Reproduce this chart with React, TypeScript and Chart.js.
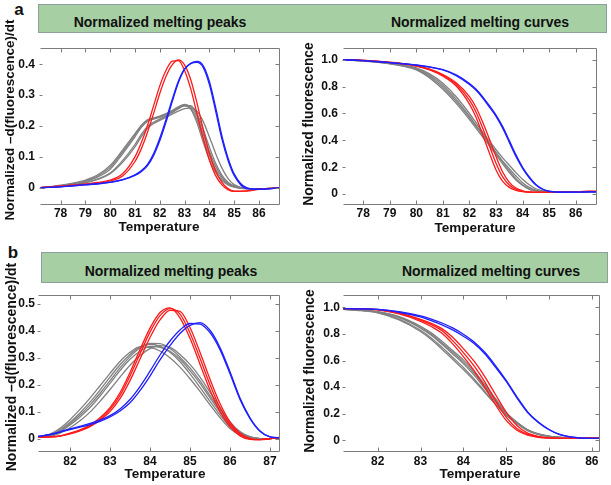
import React, { useEffect, useRef } from 'react';
import { Chart, registerables } from 'chart.js';

Chart.register(...registerables);

const FONT = '"Liberation Sans", Arial, Helvetica, sans-serif';
const RED = '#ff1a1a';
const BLUE = '#1f1fff';
const GRAY = '#808080';
const FRAME = '#7c7c7c';

// ---------- Panel a: normalized melting peaks ----------
const tempsPeaksA = [77.2, 77.5, 78, 78.5, 79, 79.5, 80, 80.5, 81, 81.25, 81.5, 81.75, 82, 82.25, 82.5, 82.75, 83, 83.25, 83.5, 83.75, 84, 84.25, 84.5, 84.75, 85, 85.5, 86, 86.5, 86.85];
const bluePeakA1 = [0.000, 0.001, 0.003, 0.006, 0.010, 0.013, 0.018, 0.026, 0.042, 0.055, 0.075, 0.110, 0.160, 0.220, 0.285, 0.345, 0.385, 0.402, 0.406, 0.390, 0.335, 0.250, 0.160, 0.090, 0.040, -0.003, -0.005, -0.003, 0.000];
const bluePeakA2 = [0.000, 0.001, 0.003, 0.006, 0.009, 0.012, 0.017, 0.025, 0.040, 0.052, 0.071, 0.104, 0.152, 0.212, 0.278, 0.340, 0.383, 0.403, 0.409, 0.396, 0.345, 0.262, 0.170, 0.097, 0.045, 0.000, -0.005, -0.003, 0.000];
const redPeakA1 = [0.000, 0.002, 0.005, 0.008, 0.012, 0.017, 0.025, 0.045, 0.100, 0.145, 0.200, 0.265, 0.330, 0.380, 0.410, 0.412, 0.380, 0.320, 0.240, 0.160, 0.090, 0.040, 0.010, -0.006, -0.012, -0.010, -0.004, -0.002, 0.000];
const redPeakA2 = [0.000, 0.002, 0.005, 0.008, 0.011, 0.015, 0.022, 0.038, 0.085, 0.125, 0.178, 0.240, 0.305, 0.360, 0.398, 0.414, 0.398, 0.350, 0.275, 0.190, 0.112, 0.055, 0.018, -0.003, -0.011, -0.011, -0.005, -0.002, 0.000];
const grayPeakA1 = [0.000, 0.002, 0.006, 0.012, 0.020, 0.035, 0.060, 0.110, 0.165, 0.195, 0.215, 0.222, 0.228, 0.236, 0.245, 0.258, 0.265, 0.255, 0.220, 0.160, 0.105, 0.060, 0.030, 0.012, 0.003, -0.003, -0.003, -0.002, 0.000];
const grayPeakA2 = [0.000, 0.002, 0.005, 0.010, 0.017, 0.029, 0.048, 0.088, 0.140, 0.172, 0.198, 0.212, 0.222, 0.232, 0.243, 0.256, 0.266, 0.266, 0.240, 0.190, 0.132, 0.080, 0.042, 0.018, 0.006, -0.002, -0.003, -0.002, 0.000];
const grayPeakA3 = [0.000, 0.002, 0.005, 0.010, 0.016, 0.027, 0.045, 0.082, 0.132, 0.165, 0.192, 0.208, 0.218, 0.228, 0.238, 0.248, 0.256, 0.258, 0.248, 0.215, 0.165, 0.112, 0.065, 0.030, 0.010, -0.002, -0.003, -0.002, 0.000];
const grayPeakA4 = [0.000, 0.003, 0.008, 0.015, 0.025, 0.042, 0.072, 0.122, 0.175, 0.202, 0.220, 0.226, 0.232, 0.240, 0.250, 0.262, 0.270, 0.255, 0.210, 0.148, 0.092, 0.050, 0.024, 0.009, 0.002, -0.003, -0.003, -0.002, 0.000];
const grayPeakA5 = [0.000, 0.002, 0.007, 0.013, 0.022, 0.038, 0.066, 0.116, 0.170, 0.199, 0.218, 0.224, 0.230, 0.238, 0.248, 0.260, 0.268, 0.262, 0.232, 0.175, 0.118, 0.070, 0.036, 0.015, 0.005, -0.003, -0.003, -0.002, 0.000];
const xTicksPeaksA = [78, 79, 80, 81, 82, 83, 84, 85, 86];
const yTicksPeaksA = [0, 0.1, 0.2, 0.3, 0.4];
const yLabelsPeaksA = ['0', '0.1', '0.2', '0.3', '0.4'];

// ---------- Panel a: normalized melting curves ----------
const tempsCurvesA = [77.24, 77.5, 78, 78.5, 79, 79.5, 80, 80.5, 81, 81.5, 82, 82.25, 82.5, 82.75, 83, 83.25, 83.5, 83.75, 84, 84.25, 84.5, 84.75, 85, 85.5, 86, 86.5, 86.8];
const blueCurveA1 = [1.000, 0.998, 0.993, 0.986, 0.978, 0.970, 0.960, 0.945, 0.924, 0.882, 0.816, 0.772, 0.715, 0.648, 0.578, 0.490, 0.385, 0.280, 0.192, 0.122, 0.068, 0.036, 0.021, 0.014, 0.015, 0.016, 0.017];
const blueCurveA2 = [1.000, 0.998, 0.993, 0.987, 0.979, 0.971, 0.961, 0.947, 0.927, 0.887, 0.823, 0.780, 0.724, 0.658, 0.588, 0.502, 0.398, 0.292, 0.200, 0.128, 0.072, 0.038, 0.022, 0.014, 0.015, 0.016, 0.017];
const redCurveA1 = [1.000, 0.999, 0.995, 0.988, 0.980, 0.970, 0.953, 0.925, 0.878, 0.805, 0.670, 0.570, 0.440, 0.305, 0.180, 0.095, 0.050, 0.028, 0.018, 0.014, 0.013, 0.013, 0.014, 0.016, 0.018, 0.020, 0.020];
const redCurveA2 = [1.000, 0.999, 0.995, 0.988, 0.980, 0.970, 0.954, 0.928, 0.885, 0.818, 0.700, 0.610, 0.490, 0.360, 0.230, 0.128, 0.068, 0.036, 0.021, 0.015, 0.013, 0.013, 0.014, 0.016, 0.018, 0.020, 0.020];
const redCurveA3 = [1.000, 0.999, 0.995, 0.989, 0.981, 0.971, 0.955, 0.930, 0.890, 0.828, 0.725, 0.645, 0.535, 0.410, 0.280, 0.165, 0.088, 0.045, 0.025, 0.016, 0.013, 0.013, 0.014, 0.016, 0.018, 0.020, 0.020];
const grayCurveA1 = [1.000, 0.997, 0.990, 0.982, 0.970, 0.952, 0.925, 0.865, 0.780, 0.675, 0.555, 0.490, 0.425, 0.360, 0.292, 0.225, 0.160, 0.105, 0.064, 0.036, 0.022, 0.017, 0.015, 0.015, 0.016, 0.018, 0.019];
const grayCurveA2 = [1.000, 0.997, 0.991, 0.983, 0.972, 0.955, 0.930, 0.875, 0.795, 0.690, 0.570, 0.505, 0.440, 0.372, 0.305, 0.240, 0.175, 0.115, 0.070, 0.040, 0.024, 0.018, 0.015, 0.015, 0.016, 0.018, 0.019];
const grayCurveA3 = [1.000, 0.998, 0.992, 0.985, 0.975, 0.960, 0.940, 0.895, 0.825, 0.725, 0.600, 0.530, 0.460, 0.395, 0.330, 0.270, 0.215, 0.160, 0.110, 0.070, 0.040, 0.025, 0.018, 0.015, 0.016, 0.018, 0.019];
const grayCurveA4 = [1.000, 0.997, 0.991, 0.984, 0.973, 0.957, 0.935, 0.885, 0.810, 0.705, 0.580, 0.512, 0.445, 0.378, 0.310, 0.245, 0.190, 0.135, 0.085, 0.050, 0.030, 0.020, 0.016, 0.015, 0.016, 0.018, 0.019];
const xTicksCurvesA = [78, 79, 80, 81, 82, 83, 84, 85, 86];
const yTicksCurves = [0, 0.2, 0.4, 0.6, 0.8, 1.0];
const yLabelsCurves = ['0', '0.2', '0.4', '0.6', '0.8', '1.0'];

// ---------- Panel b: normalized melting peaks ----------
const tempsPeaksB = [81.2, 81.5, 81.75, 82, 82.25, 82.5, 82.75, 83, 83.25, 83.5, 83.75, 84, 84.25, 84.5, 84.75, 85, 85.25, 85.5, 85.75, 86, 86.25, 86.5, 86.75, 87, 87.25];
const bluePeakB1 = [0.008, 0.015, 0.025, 0.036, 0.045, 0.056, 0.068, 0.085, 0.110, 0.145, 0.193, 0.250, 0.310, 0.362, 0.403, 0.427, 0.425, 0.393, 0.330, 0.240, 0.145, 0.074, 0.027, 0.006, 0.003];
const bluePeakB2 = [0.008, 0.014, 0.023, 0.033, 0.042, 0.052, 0.064, 0.080, 0.102, 0.133, 0.178, 0.232, 0.292, 0.345, 0.390, 0.420, 0.430, 0.402, 0.338, 0.248, 0.150, 0.077, 0.028, 0.006, 0.003];
const redPeakB1 = [0.005, 0.006, 0.010, 0.020, 0.032, 0.050, 0.077, 0.115, 0.170, 0.245, 0.330, 0.410, 0.468, 0.485, 0.448, 0.372, 0.276, 0.180, 0.100, 0.044, 0.010, -0.003, -0.004, 0.000, 0.004];
const redPeakB2 = [0.005, 0.006, 0.009, 0.017, 0.028, 0.044, 0.068, 0.100, 0.148, 0.215, 0.295, 0.375, 0.440, 0.476, 0.472, 0.412, 0.320, 0.220, 0.130, 0.062, 0.020, 0.001, -0.004, -0.001, 0.004];
const redPeakB3 = [0.005, 0.006, 0.009, 0.018, 0.030, 0.047, 0.072, 0.108, 0.160, 0.232, 0.315, 0.395, 0.456, 0.482, 0.462, 0.392, 0.298, 0.200, 0.115, 0.053, 0.015, -0.002, -0.004, 0.000, 0.004];
const grayPeakB1 = [0.004, 0.010, 0.025, 0.050, 0.080, 0.115, 0.158, 0.205, 0.252, 0.294, 0.324, 0.342, 0.338, 0.324, 0.294, 0.252, 0.205, 0.151, 0.098, 0.050, 0.020, 0.005, 0.000, 0.000, 0.002];
const grayPeakB2 = [0.005, 0.013, 0.032, 0.060, 0.095, 0.135, 0.180, 0.228, 0.274, 0.312, 0.340, 0.350, 0.342, 0.320, 0.285, 0.240, 0.190, 0.138, 0.088, 0.043, 0.016, 0.004, 0.000, 0.000, 0.002];
const grayPeakB3 = [0.004, 0.008, 0.020, 0.040, 0.066, 0.098, 0.138, 0.182, 0.228, 0.272, 0.308, 0.334, 0.345, 0.338, 0.312, 0.275, 0.228, 0.172, 0.115, 0.062, 0.026, 0.007, 0.000, 0.000, 0.002];
const grayPeakB4 = [0.006, 0.016, 0.038, 0.070, 0.108, 0.150, 0.196, 0.242, 0.286, 0.320, 0.340, 0.338, 0.325, 0.300, 0.265, 0.222, 0.175, 0.125, 0.078, 0.037, 0.013, 0.003, 0.000, 0.000, 0.002];
const grayPeakB5 = [0.004, 0.011, 0.028, 0.055, 0.087, 0.125, 0.168, 0.215, 0.262, 0.304, 0.336, 0.353, 0.352, 0.334, 0.302, 0.262, 0.214, 0.160, 0.106, 0.056, 0.022, 0.006, 0.000, 0.000, 0.002];
const xTicksPeaksB = [82, 83, 84, 85, 86, 87];
const yTicksPeaksB = [0, 0.1, 0.2, 0.3, 0.4, 0.5];
const yLabelsPeaksB = ['0', '0.1', '0.2', '0.3', '0.4', '0.5'];

// ---------- Panel b: normalized melting curves ----------
const tempsCurvesB = [81.2, 81.5, 82, 82.5, 83, 83.25, 83.5, 83.75, 84, 84.25, 84.5, 84.75, 85, 85.25, 85.5, 85.75, 86, 86.25, 86.5, 86.75, 87, 87.19];
const blueCurveB1 = [0.990, 0.989, 0.984, 0.963, 0.928, 0.900, 0.868, 0.830, 0.783, 0.728, 0.650, 0.550, 0.444, 0.320, 0.210, 0.135, 0.080, 0.044, 0.026, 0.018, 0.015, 0.015];
const blueCurveB2 = [0.990, 0.989, 0.985, 0.967, 0.936, 0.912, 0.882, 0.845, 0.798, 0.740, 0.662, 0.562, 0.452, 0.328, 0.215, 0.138, 0.082, 0.045, 0.026, 0.018, 0.015, 0.015];
const redCurveB1 = [0.990, 0.989, 0.982, 0.955, 0.904, 0.870, 0.825, 0.750, 0.660, 0.560, 0.440, 0.300, 0.175, 0.090, 0.045, 0.026, 0.018, 0.016, 0.015, 0.016, 0.017, 0.017];
const redCurveB2 = [0.990, 0.989, 0.983, 0.958, 0.910, 0.880, 0.840, 0.775, 0.690, 0.595, 0.480, 0.345, 0.212, 0.112, 0.055, 0.030, 0.019, 0.016, 0.015, 0.016, 0.017, 0.017];
const redCurveB3 = [0.990, 0.988, 0.980, 0.950, 0.895, 0.856, 0.805, 0.725, 0.630, 0.525, 0.400, 0.268, 0.150, 0.076, 0.039, 0.023, 0.017, 0.015, 0.015, 0.016, 0.017, 0.017];
const grayCurveB1 = [0.985, 0.980, 0.965, 0.922, 0.844, 0.790, 0.722, 0.650, 0.577, 0.490, 0.390, 0.290, 0.195, 0.130, 0.075, 0.045, 0.030, 0.022, 0.018, 0.016, 0.015, 0.015];
const grayCurveB2 = [0.985, 0.979, 0.960, 0.912, 0.828, 0.770, 0.700, 0.625, 0.548, 0.462, 0.368, 0.275, 0.188, 0.126, 0.074, 0.045, 0.030, 0.022, 0.018, 0.016, 0.015, 0.015];
const grayCurveB3 = [0.986, 0.982, 0.968, 0.930, 0.858, 0.808, 0.745, 0.675, 0.605, 0.520, 0.420, 0.315, 0.210, 0.138, 0.080, 0.048, 0.031, 0.022, 0.018, 0.016, 0.015, 0.015];
const grayCurveB4 = [0.985, 0.978, 0.958, 0.905, 0.818, 0.758, 0.685, 0.610, 0.532, 0.450, 0.360, 0.272, 0.190, 0.130, 0.080, 0.050, 0.033, 0.023, 0.018, 0.016, 0.015, 0.015];
const grayCurveB5 = [0.986, 0.981, 0.966, 0.926, 0.850, 0.798, 0.732, 0.662, 0.590, 0.505, 0.405, 0.302, 0.202, 0.134, 0.078, 0.047, 0.031, 0.022, 0.018, 0.016, 0.015, 0.015];
const xTicksCurvesB = [82, 83, 84, 85, 86, 87];
const xLabelsCurvesB = ['82', '83', '84', '85', '86', '86'];

type Series = { values: number[]; color: string };
type PanelDef = {
  box: { x: number; y: number; w: number; h: number };
  pad: { top: number; right: number };
  yWidth: number;
  xHeight: number;
  temps: number[];
  series: Series[];
  xMin: number; xMax: number; yMin: number; yMax: number;
  xTicks: number[]; xLabels: string[];
  yTicks: number[]; yLabels: string[];
  xPad: number; yPad: number;
};

const framePlugin = {
  id: 'innerFrame',
  afterDatasetsDraw(chart: any) {
    const { ctx, chartArea } = chart;
    const xs = chart.scales.x;
    const ys = chart.scales.y;
    const L = Math.round(chartArea.left) + 0.5;
    const R = Math.round(chartArea.right) - 0.5;
    const T = Math.round(chartArea.top) + 0.5;
    const B = Math.round(chartArea.bottom) - 0.5;
    ctx.save();
    ctx.strokeStyle = FRAME;
    ctx.lineWidth = 1;
    ctx.beginPath();
    ctx.moveTo(L, T);
    ctx.lineTo(R, T);
    ctx.lineTo(R, B);
    ctx.lineTo(L, B);
    xs.ticks.forEach((t: any) => {
      const px = Math.round(xs.getPixelForValue(t.value)) + 0.5;
      ctx.moveTo(px, T); ctx.lineTo(px, T + 4);
      ctx.moveTo(px, B); ctx.lineTo(px, B - 4);
    });
    ys.ticks.forEach((t: any) => {
      const py = Math.round(ys.getPixelForValue(t.value)) + 0.5;
      ctx.moveTo(L - 1, py); ctx.lineTo(L + 2, py);
      ctx.moveTo(R, py); ctx.lineTo(R - 4, py);
    });
    ctx.stroke();
    ctx.restore();
  },
};

function MeltChart({ p }: { p: PanelDef }) {
  const ref = useRef<HTMLCanvasElement>(null);
  useEffect(() => {
    const tickFont = { family: FONT, size: 12, weight: 'bold' as const };
    const chart = new Chart(ref.current as HTMLCanvasElement, {
      type: 'line',
      data: {
        datasets: p.series.map((s) => ({
          data: p.temps.map((t, i) => ({ x: t, y: s.values[i] })),
          borderColor: s.color,
          borderWidth: 1.3,
          pointRadius: 0,
          fill: false,
          cubicInterpolationMode: 'monotone' as const,
        })),
      },
      options: {
        animation: false,
        responsive: false,
        maintainAspectRatio: false,
        events: [],
        layout: { padding: { left: 0, top: p.pad.top, right: p.pad.right, bottom: 0 } },
        plugins: { legend: { display: false }, tooltip: { enabled: false }, title: { display: false } },
        scales: {
          x: {
            type: 'linear',
            min: p.xMin,
            max: p.xMax,
            grid: { display: false, drawTicks: false },
            border: { display: false },
            afterBuildTicks: (s: any) => { s.ticks = p.xTicks.map((v) => ({ value: v })); },
            afterFit: (s: any) => { s.height = p.xHeight; },
            ticks: {
              autoSkip: false,
              maxRotation: 0,
              padding: p.xPad,
              color: '#111',
              font: tickFont,
              callback: (_v: any, i: number) => p.xLabels[i],
            },
          },
          y: {
            type: 'linear',
            min: p.yMin,
            max: p.yMax,
            grid: { display: false, drawTicks: false },
            border: { display: false },
            afterBuildTicks: (s: any) => { s.ticks = p.yTicks.map((v) => ({ value: v })); },
            afterFit: (s: any) => { s.width = p.yWidth; },
            ticks: {
              autoSkip: false,
              padding: p.yPad,
              color: '#111',
              font: tickFont,
              callback: (_v: any, i: number) => p.yLabels[i],
            },
          },
        },
      },
      plugins: [framePlugin],
    } as any);
    return () => chart.destroy();
  }, []);
  return (
    <canvas
      ref={ref}
      width={p.box.w}
      height={p.box.h}
      style={{ position: 'absolute', left: p.box.x, top: p.box.y, width: p.box.w, height: p.box.h }}
    />
  );
}

const peaksA: PanelDef = {
  box: { x: 0, y: 36, w: 290, h: 204 },
  pad: { top: 6, right: 10 },
  yWidth: 40, xHeight: 35,
  temps: tempsPeaksA,
  series: [
    { values: bluePeakA1, color: BLUE }, { values: bluePeakA2, color: BLUE },
    { values: redPeakA1, color: RED }, { values: redPeakA2, color: RED },
    { values: grayPeakA1, color: GRAY }, { values: grayPeakA2, color: GRAY }, { values: grayPeakA3, color: GRAY },
    { values: grayPeakA4, color: GRAY }, { values: grayPeakA5, color: GRAY },
  ],
  xMin: 77.17, xMax: 86.85, yMin: -0.056, yMax: 0.452,
  xTicks: xTicksPeaksA, xLabels: xTicksPeaksA.map(String),
  yTicks: yTicksPeaksA, yLabels: yLabelsPeaksA,
  xPad: 1, yPad: 5,
};

const curvesA: PanelDef = {
  box: { x: 296, y: 36, w: 315, h: 204 },
  pad: { top: 6, right: 14 },
  yWidth: 47, xHeight: 35,
  temps: tempsCurvesA,
  series: [
    { values: blueCurveA1, color: BLUE }, { values: blueCurveA2, color: BLUE },
    { values: redCurveA1, color: RED }, { values: redCurveA2, color: RED }, { values: redCurveA3, color: RED },
    { values: grayCurveA1, color: GRAY }, { values: grayCurveA2, color: GRAY },
    { values: grayCurveA3, color: GRAY }, { values: grayCurveA4, color: GRAY },
  ],
  xMin: 77.24, xMax: 86.8, yMin: -0.081, yMax: 1.086,
  xTicks: xTicksCurvesA, xLabels: xTicksCurvesA.map(String),
  yTicks: yTicksCurves, yLabels: yLabelsCurves,
  xPad: 1, yPad: 5,
};

const peaksB: PanelDef = {
  box: { x: 0, y: 285, w: 290, h: 200 },
  pad: { top: 4, right: 10 },
  yWidth: 38, xHeight: 33,
  temps: tempsPeaksB,
  series: [
    { values: bluePeakB1, color: BLUE }, { values: bluePeakB2, color: BLUE },
    { values: redPeakB1, color: RED }, { values: redPeakB2, color: RED }, { values: redPeakB3, color: RED },
    { values: grayPeakB1, color: GRAY }, { values: grayPeakB2, color: GRAY }, { values: grayPeakB3, color: GRAY },
    { values: grayPeakB4, color: GRAY }, { values: grayPeakB5, color: GRAY },
  ],
  xMin: 81.2, xMax: 87.25, yMin: -0.05, yMax: 0.532,
  xTicks: xTicksPeaksB, xLabels: xTicksPeaksB.map(String),
  yTicks: yTicksPeaksB, yLabels: yLabelsPeaksB,
  xPad: 2, yPad: 3,
};

const curvesB: PanelDef = {
  box: { x: 296, y: 285, w: 315, h: 200 },
  pad: { top: 5, right: 11 },
  yWidth: 47, xHeight: 33,
  temps: tempsCurvesB,
  series: [
    { values: blueCurveB1, color: BLUE }, { values: blueCurveB2, color: BLUE },
    { values: redCurveB1, color: RED }, { values: redCurveB2, color: RED }, { values: redCurveB3, color: RED },
    { values: grayCurveB1, color: GRAY }, { values: grayCurveB2, color: GRAY }, { values: grayCurveB3, color: GRAY },
    { values: grayCurveB4, color: GRAY }, { values: grayCurveB5, color: GRAY },
  ],
  xMin: 81.19, xMax: 87.19, yMin: -0.087, yMax: 1.091,
  xTicks: xTicksCurvesB, xLabels: xLabelsCurvesB,
  yTicks: yTicksCurves, yLabels: yLabelsCurves,
  xPad: 2, yPad: 3,
};

function Txt({ x, y, size, text, rotate }: { x: number; y: number; size: number; text: string; rotate?: boolean }) {
  return (
    <div
      style={{
        position: 'absolute', left: x, top: y,
        transform: `translate(-50%, -50%)${rotate ? ' rotate(-90deg)' : ''}`,
        fontFamily: FONT, fontWeight: 'bold', fontSize: size, lineHeight: 1,
        whiteSpace: 'nowrap', color: '#111',
      }}
    >
      {text}
    </div>
  );
}

function Banner({ x, y, w, h }: { x: number; y: number; w: number; h: number }) {
  return (
    <div
      style={{
        position: 'absolute', left: x, top: y, width: w, height: h, boxSizing: 'border-box',
        background: '#a7cfa4', border: '1.5px solid #8e9e9b',
      }}
    />
  );
}

export default function App() {
  return (
    <div style={{ position: 'absolute', left: 0, top: 0, width: 611, height: 485, background: '#fff', overflow: 'hidden' }}>
      <Banner x={38} y={4} w={569} h={29} />
      <Banner x={41} y={252} w={567} h={31} />
      <MeltChart p={peaksA} />
      <MeltChart p={curvesA} />
      <MeltChart p={peaksB} />
      <MeltChart p={curvesB} />
      <Txt x={19} y={9} size={17} text="a" />
      <Txt x={13} y={252} size={17} text="b" />
      <Txt x={160} y={22} size={14} text="Normalized melting peaks" />
      <Txt x={480} y={22} size={14} text="Normalized melting curves" />
      <Txt x={171} y={271} size={14} text="Normalized melting peaks" />
      <Txt x={491} y={271} size={14} text="Normalized melting curves" />
      <Txt x={10} y={120} size={13.5} text="Normalized –d(fluorescence)/dt" rotate />
      <Txt x={309} y={124} size={13.8} text="Normalized fluorescence" rotate />
      <Txt x={11} y={367} size={14} text="Normalized –d(fluorescence)/dt" rotate />
      <Txt x={310} y={371} size={13.8} text="Normalized fluorescence" rotate />
      <Txt x={159} y={227} size={13.5} text="Temperature" />
      <Txt x={475} y={228} size={13.5} text="Temperature" />
      <Txt x={165} y={474} size={13.5} text="Temperature" />
      <Txt x={480} y={474} size={13.5} text="Temperature" />
    </div>
  );
}
